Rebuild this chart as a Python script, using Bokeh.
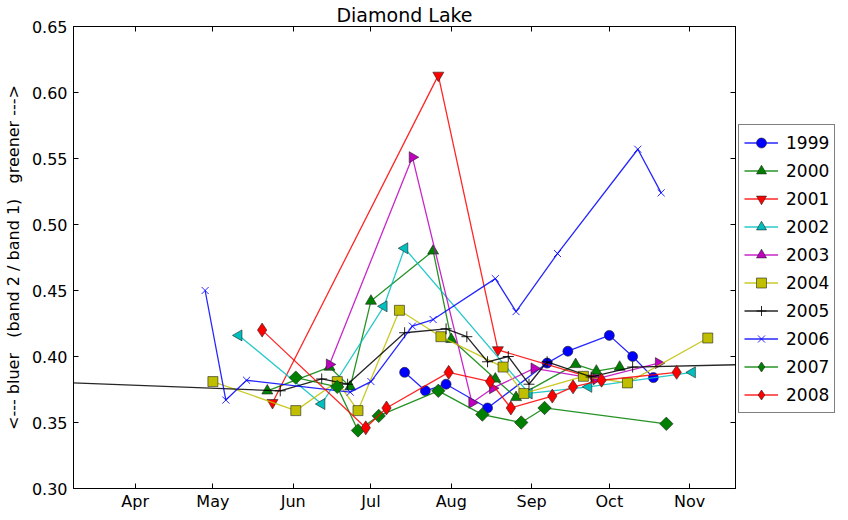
import math
from bokeh.plotting import figure
from bokeh.layouts import row
from bokeh.models import Range1d, FixedTicker, LinearAxis, Legend, LegendItem
from bokeh.embed import file_html
from bokeh.resources import INLINE

# ---- data (x = day of year, y = band2/band1 ratio) ----
month_ticks = [91, 121, 152, 182, 213, 244, 274, 305]
month_labels = ["Apr", "May", "Jun", "Jul", "Aug", "Sep", "Oct", "Nov"]
y_ticks = [0.30, 0.35, 0.40, 0.45, 0.50, 0.55, 0.60, 0.65]
y_tick_labels = ["0.30", "0.35", "0.40", "0.45", "0.50", "0.55", "0.60", "0.65"]

years = ["1999", "2000", "2001", "2002", "2003", "2004", "2005", "2006", "2007", "2008"]

doy_1999 = [195, 203, 211, 227, 250, 258, 274, 283, 291]
val_1999 = [0.388, 0.374, 0.379, 0.361, 0.395, 0.404, 0.416, 0.400, 0.384]

doy_2000 = [142, 166, 174, 182, 206, 213, 230, 238, 261, 269, 278]
val_2000 = [0.374, 0.392, 0.377, 0.442, 0.480, 0.413, 0.383, 0.369, 0.394, 0.389, 0.392]

doy_2001 = [144, 208, 231, 268]
val_2001 = [0.365, 0.613, 0.405, 0.3835]

doy_2002 = [131, 163, 187, 195, 243, 266, 306]
val_2002 = [0.416, 0.364, 0.438, 0.482, 0.372, 0.377, 0.388]

doy_2003 = [166, 198, 221, 229, 245, 269, 293]
val_2003 = [0.394, 0.551, 0.365, 0.376, 0.391, 0.383, 0.395]

doy_2004 = [121, 153, 169, 177, 193, 209, 233, 241, 264, 281, 312]
val_2004 = [0.381, 0.359, 0.381, 0.359, 0.435, 0.415, 0.392, 0.372, 0.385, 0.380, 0.414]

doy_2005 = [45, 147, 163, 173, 195, 211, 219, 227, 235, 243, 250, 267, 283, 345]
val_2005 = [0.3817, 0.374, 0.383, 0.379, 0.418, 0.421, 0.415, 0.396, 0.400, 0.379, 0.396, 0.3845, 0.392, 0.3947]

doy_2006 = [118, 126, 134, 174, 182, 198, 206, 230, 238, 254, 285, 294]
val_2006 = [0.450, 0.367, 0.382, 0.373, 0.381, 0.423, 0.428, 0.459, 0.434, 0.478, 0.557, 0.524]

doy_2007 = [153, 169, 177, 185, 208, 225, 240, 249, 296]
val_2007 = [0.384, 0.377, 0.344, 0.355, 0.374, 0.356, 0.350, 0.361, 0.349]

doy_2008 = [140, 180, 188, 212, 228, 236, 252, 260, 271, 300]
val_2008 = [0.420, 0.346, 0.361, 0.388, 0.381, 0.361, 0.370, 0.377, 0.382, 0.388]

series_x = [doy_1999, doy_2000, doy_2001, doy_2002, doy_2003, doy_2004, doy_2005, doy_2006, doy_2007, doy_2008]
series_y = [val_1999, val_2000, val_2001, val_2002, val_2003, val_2004, val_2005, val_2006, val_2007, val_2008]

# ---- styles ----
styles = [
    ("#0000ff", "circle", 0.0, 10),
    ("#008000", "triangle", 0.0, 11),
    ("#ff0000", "inverted_triangle", 0.0, 11),
    ("#00bfbf", "triangle", math.pi / 2, 11),
    ("#bf00bf", "triangle", -math.pi / 2, 11),
    ("#bfbf00", "square", 0.0, 10),
    ("#000000", "cross", 0.0, 11),
    ("#0000ff", "x", 0.0, 10),
    ("#008000", "square", math.pi / 4, 9.5),
    ("#ff0000", "diamond", 0.0, 14),
]
# legend ignores marker rotation, so the rotated square of 2007 is shown as a diamond there
legend_markers = ["circle", "triangle", "inverted_triangle", "triangle", "triangle",
                  "square", "cross", "x", "diamond", "diamond"]

FONT = "DejaVu Sans"
FW, FH = 662, 462

p = figure(frame_width=FW, frame_height=FH, output_backend="svg", toolbar_location=None,
           x_range=Range1d(67.2, 322.7), y_range=Range1d(0.30, 0.65),
           min_border_left=66, min_border_right=3, min_border_top=0, min_border_bottom=0)

p.title.text = "Diamond Lake"
p.title.align = "center"
p.title.text_font = FONT
p.title.text_font_size = "19px"
p.title.text_font_style = "normal"
p.title.text_color = "black"
p.title.standoff = 2

p.xgrid.visible = False
p.ygrid.visible = False
p.outline_line_color = "black"
p.outline_line_width = 1
p.background_fill_color = "white"
p.border_fill_color = "white"

p.xaxis.ticker = FixedTicker(ticks=month_ticks)
p.xaxis.major_label_overrides = {t: l for t, l in zip(month_ticks, month_labels)}
p.yaxis.ticker = FixedTicker(ticks=y_ticks)
p.yaxis.major_label_overrides = {t: l for t, l in zip(y_ticks, y_tick_labels)}
p.yaxis.axis_label = "<--- bluer\u00a0\u00a0 (band 2 / band 1)\u00a0\u00a0 greener --->"
p.yaxis.axis_label_text_font = FONT
p.yaxis.axis_label_text_font_size = "16px"
p.yaxis.axis_label_text_font_style = "normal"
p.yaxis.axis_label_text_color = "black"
p.yaxis.axis_label_standoff = 6

for ax in (p.xaxis[0], p.yaxis[0]):
    ax.major_label_text_font = FONT
    ax.major_label_text_font_size = "16px"
    ax.major_label_text_color = "black"
    ax.major_tick_in = 5
    ax.major_tick_out = 0
    ax.minor_tick_in = 0
    ax.minor_tick_out = 0
    ax.axis_line_color = "black"
    ax.major_tick_line_color = "black"
p.xaxis.major_label_standoff = 3
p.yaxis.major_label_standoff = 6

# ticks on top and right (no labels)
top = LinearAxis(ticker=FixedTicker(ticks=month_ticks),
                 major_label_overrides={t: "" for t in month_ticks},
                 major_label_text_font_size="0px", major_label_standoff=0,
                 major_tick_in=5, major_tick_out=0, minor_tick_in=0, minor_tick_out=0,
                 axis_line_color="black")
right = LinearAxis(ticker=FixedTicker(ticks=y_ticks),
                   major_label_overrides={t: "" for t in y_ticks},
                   major_label_text_font_size="0px", major_label_standoff=0,
                   major_tick_in=5, major_tick_out=0, minor_tick_in=0, minor_tick_out=0,
                   axis_line_color="black")
p.add_layout(top, "above")
p.add_layout(right, "right")


def draw(fig, xs, ys, color, marker, angle, size):
    ln = fig.line(xs, ys, line_color=color, line_width=1.3, line_alpha=0.85)
    if marker in ("cross", "x"):
        sc = fig.scatter(xs, ys, marker=marker, size=size, line_color=color, line_width=1,
                         line_alpha=0.85)
    else:
        sc = fig.scatter(xs, ys, marker=marker, size=size, angle=angle, fill_color=color,
                         line_color="#222222", line_width=0.6)
    return ln, sc


for xs, ys, st in zip(series_x, series_y, styles):
    draw(p, xs, ys, *st)

# ---- legend panel (separate figure to the right; the same series drawn out of its view) ----
lg = figure(width=101, height=500, output_backend="svg", toolbar_location=None,
            x_range=Range1d(0, 1), y_range=Range1d(0, 1),
            x_axis_location=None, y_axis_location=None, min_border=0)
lg.xgrid.visible = False
lg.ygrid.visible = False
lg.outline_line_color = None
lg.background_fill_color = "white"
lg.border_fill_color = "white"

items = []
for yr, xs, ys, st, lm in zip(years, series_x, series_y, styles, legend_markers):
    color, _, angle, size = st
    ln, sc = draw(lg, xs, ys, color, lm, 0.0, size)
    items.append(LegendItem(label=yr, renderers=[ln, sc]))

legend = Legend(items=items, location=(0, 62))
legend.label_text_font = FONT
legend.label_text_font_size = "17px"
legend.label_text_color = "black"
legend.border_line_color = "black"
legend.border_line_width = 1
legend.glyph_width = 34
legend.glyph_height = 25
legend.label_height = 25
legend.label_standoff = 8
legend.spacing = 3
legend.padding = 5
legend.margin = 0
legend.background_fill_alpha = 1
lg.add_layout(legend, "center")

layout = row(p, lg)
open("out.html", "w").write(file_html(layout, INLINE))
